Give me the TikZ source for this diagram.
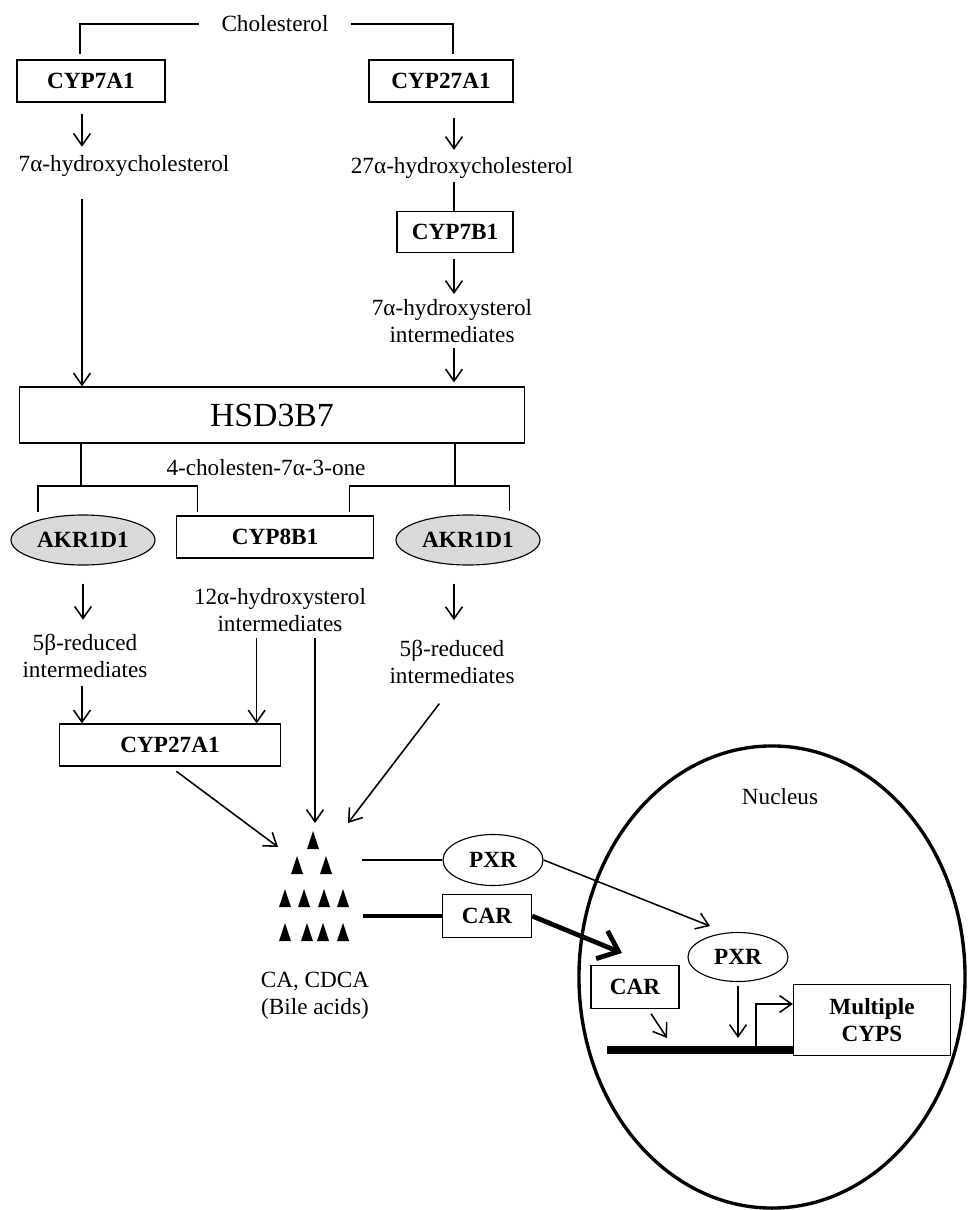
\documentclass[tikz,border=0pt]{standalone}
\usepackage{fontspec}
\setmainfont{Liberation Serif}
\usetikzlibrary{positioning, arrows.meta, shapes.geometric, calc}

\begin{document}
\begin{tikzpicture}[x=0.025cm, y=-0.025cm,
    font=\fontsize{16.5}{19.5}\selectfont,
    ln/.style={line width=1.1pt},
    arr/.style={ln, -{Straight Barb[length=0.3cm, width=0.42cm]}},
    thk/.style={line width=3.4pt},
    box/.style={rectangle, draw, line width=0.8pt, font=\fontsize{16.5}{19.5}\selectfont\bfseries, minimum height=1.05cm, inner sep=0pt},
    akr/.style={ellipse, draw, line width=0.8pt, fill=gray!30, font=\fontsize{16.5}{19.5}\selectfont\bfseries, minimum width=3.6cm, minimum height=1.25cm, inner sep=0pt},
    nr/.style={ellipse, draw, line width=0.8pt, font=\fontsize{16.5}{19.5}\selectfont\bfseries, minimum width=2.5cm, minimum height=1.275cm, inner sep=0pt},
    lbl/.style={align=center, inner sep=2pt}]
    \useasboundingbox (0,0) rectangle (968,1210);
    \node[draw, ellipse, line width=2.4pt, minimum width=9.65cm, minimum height=11.55cm] (nuc) at (772,977) {};
    \node[lbl, inner xsep=0.56cm] (chol) at (275,24) {Cholesterol};
    \node[box, minimum width=3.7cm] (cyp7a1) at (91,81) {CYP7A1};
    \node[box, minimum width=3.6cm] (cyp27a1) at (441,81) {CYP27A1};
    \node[lbl] (h7a) at (124,166) {7α-hydroxycholesterol};
    \node[lbl] (h27a) at (462,168) {27α-hydroxycholesterol};
    \node[box, minimum width=2.9cm, minimum height=1.025cm] (cyp7b1) at (455,232) {CYP7B1};
    \node[lbl] (h7s) at (452,321) {7α-hydroxysterol\\intermediates};
    \node[box, minimum width=12.625cm, minimum height=1.4cm, font=\fontsize{24}{28}\selectfont] (hsd) at (272,415) {HSD3B7};
    \node[lbl] (c4) at (266,468) {4-cholesten-7α-3-one};
    \node[akr] (akrL) at (83,540) {AKR1D1};
    \node[box, minimum width=4.925cm] (cyp8b1) at (275,537) {CYP8B1};
    \node[akr] (akrR) at (468,540) {AKR1D1};
    \node[lbl] (h12) at (280,610) {12α-hydroxysterol\\intermediates};
    \node[lbl] (redL) at (85,656) {5β-reduced\\intermediates};
    \node[lbl] (redR) at (452,662) {5β-reduced\\intermediates};
    \node[box, minimum width=5.525cm] (cyp27b) at (170,745) {CYP27A1};
    \node[lbl] (ba) at (315,996) {CA, CDCA\\(Bile acids)};
    \node[nr] (pxr1) at (493,860) {PXR};
    \node[box, minimum width=2.225cm, minimum height=1.075cm] (car1) at (487,916) {CAR};
    \node[lbl] (nuct) at (780,797) {Nucleus};
    \node[nr, minimum height=1.225cm] (pxr2) at (738,957) {PXR};
    \node[box, minimum width=2.2cm, minimum height=1.075cm] (car2) at (635,987) {CAR};
    \node[box, minimum width=3.925cm, minimum height=1.775cm, align=center] (cyps) at (872,1020) {Multiple\\CYPS};

    \coordinate (lcol) at (82,0);
    \coordinate (rcol) at (454,0);
    \coordinate (jl) at (81,486);
    \coordinate (jr) at (455,486);
    \coordinate (c12) at ([xshift=-0.61cm]cyp27b.north east);
    \coordinate (tipA) at (278,847);
    \coordinate (tipB) at (315,823);
    \coordinate (tipC) at (348,823);
    \coordinate (srcP) at (362,860);
    \coordinate (srcC) at (363,916);
    \coordinate (tipP) at (710,926);
    \coordinate (tipK) at (622,953);
    \coordinate (tipD) at (667,1038);
    \coordinate (dnaL) at (607,1050);
    \coordinate (dnaR) at (793,1050);

    \draw[ln, shorten >=0.125cm] (chol.west) -| ([xshift=-0.275cm]cyp7a1.north);
    \draw[ln, shorten >=0.125cm] (chol.east) -| ([xshift=0.3cm]cyp27a1.north);
    \draw[arr, shorten <=0.28cm, shorten >=0.14cm] (cyp7a1.south -| lcol) -- (h7a.north -| lcol);
    \draw[arr, shorten <=0.375cm, shorten >=0.11cm] (cyp27a1.south -| rcol) -- (h27a.north -| rcol);
    \draw[ln] (h27a.south -| rcol) -- (cyp7b1.north -| rcol);
    \draw[arr, shorten <=0.14cm, shorten >=0.05cm] (cyp7b1.south -| rcol) -- (h7s.north -| rcol);
    \draw[arr, shorten <=0.05cm, shorten >=0.1cm] (h7s.south -| rcol) -- (hsd.north -| rcol);
    \draw[arr, shorten <=0.49cm] (h7a.south -| lcol) -- (hsd.north -| lcol);
    \draw[ln] (hsd.south -| jl) -- (jl);
    \draw[ln] (hsd.south -| jr) -- (jr);
    \draw[ln, shorten >=0.2cm] (jl) -| (akrL.156);
    \draw[ln, shorten >=0.08cm] (jl) -| ([xshift=0.54cm]cyp8b1.north west);
    \draw[ln, shorten >=0.08cm] (jr) -| ([xshift=-0.61cm]cyp8b1.north east);
    \draw[ln, shorten >=0.2cm] (jr) -| (akrR.27);
    \draw[arr, shorten <=0.45cm, shorten >=0.28cm] (akrL.south) -- (akrL.south |- redL.north);
    \draw[arr, shorten <=0.45cm, shorten >=0.42cm] (akrR.south -| rcol) -- (redR.north -| rcol);
    \draw[arr, shorten <=0.12cm] (redL.south -| lcol) -- (cyp27b.north -| lcol);
    \draw[arr, shorten <=0.08cm] (h12.south -| c12) -- (c12);
    \draw[arr, shorten <=0.08cm] (h12.south -| tipB) -- (tipB);
    \draw[arr, shorten <=0.52cm] (redR.south) -- (tipC);
    \draw[arr, shorten <=0.2cm] (cyp27b.south) -- (tipA);
    \foreach \x/\y in {313/840, 297/865, 326/865, 285/898, 304/898, 324/898, 343/898, 285/932, 307/932, 323/932, 343/932}
        \fill (\x-6,\y+9) -- (\x,\y-9) -- (\x+6,\y+9) -- cycle;
    \draw[ln] (srcP) -- (pxr1.west);
    \draw[thk] (srcC) -- (car1.west);
    \draw[arr] (pxr1.east) -- (tipP);
    \draw[thk, -{Straight Barb[length=0.45cm, width=0.75cm]}] (car1.east) -- (tipK);
    \draw[arr, shorten <=0.14cm] ([xshift=0.325cm]car2.south) -- (tipD);
    \draw[arr, shorten <=0.11cm, shorten >=0.3cm] (pxr2.south) -- (pxr2.south |- dnaL);
    \draw[line width=5.5pt] (dnaL) -- (dnaR);
    \draw[arr] ([xshift=-0.925cm]dnaR) |- ([yshift=0.4cm]cyps.west);
\end{tikzpicture}
\end{document}
